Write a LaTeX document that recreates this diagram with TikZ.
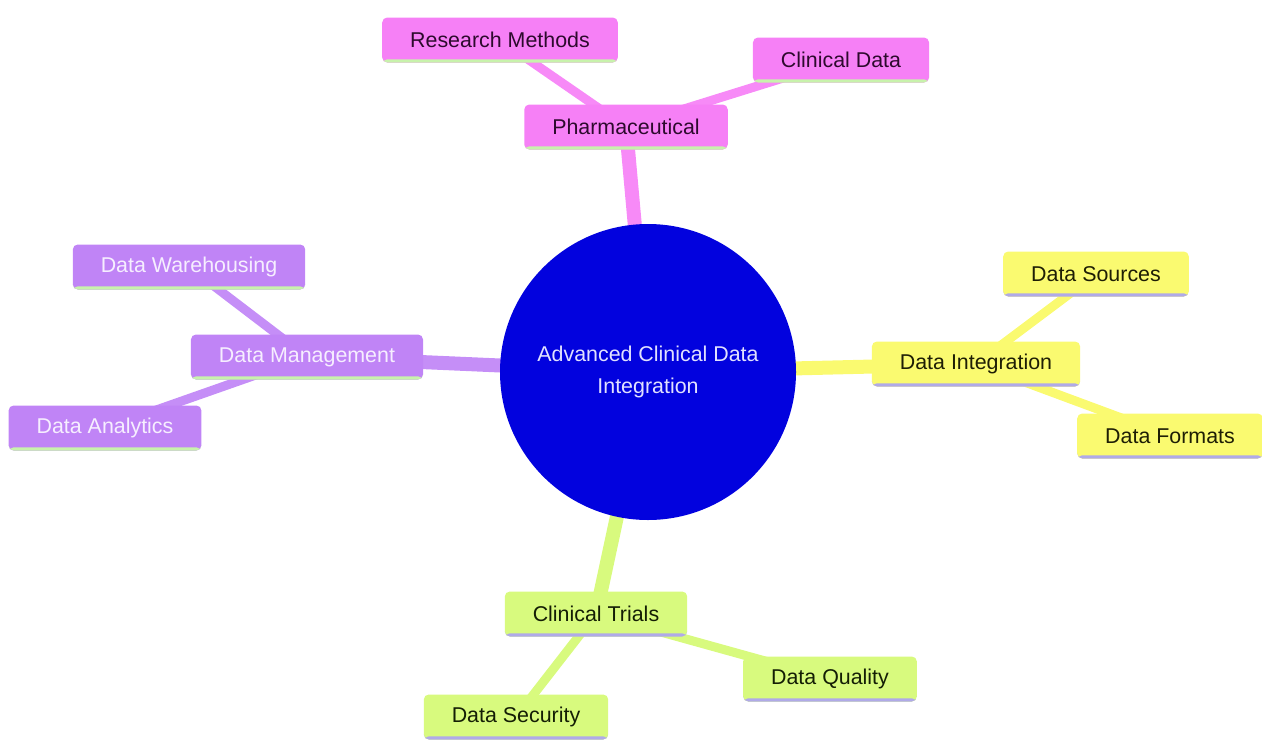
\documentclass[tikz,border=0pt]{standalone}
\usepackage{fontspec}
\setmainfont{Liberation Sans}
\usetikzlibrary{positioning, backgrounds}

\definecolor{pinkfill}{RGB}{246,128,246}
\definecolor{pinktext}{RGB}{45,10,45}
\definecolor{purplefill}{RGB}{192,132,246}
\definecolor{purpletext}{RGB}{246,238,255}
\definecolor{yellowfill}{RGB}{250,250,112}
\definecolor{yellowtext}{RGB}{30,30,5}
\definecolor{greenfill}{RGB}{216,250,126}
\definecolor{greentext}{RGB}{20,30,5}
\definecolor{rootfill}{RGB}{2,2,222}
\definecolor{roottext}{RGB}{225,225,255}
\definecolor{undergreen}{RGB}{200,242,172}
\definecolor{underlav}{RGB}{176,170,232}

\begin{document}
\begin{tikzpicture}[
    x=0.5pt, y=-0.5pt,
    every node/.style={font=\fontsize{10.7}{13}\selectfont},
    leafbox/.style={rectangle, rounded corners=2.5pt, inner xsep=14pt, minimum height=22.5pt, inner ysep=0pt},
    underline/.style={path picture={\fill[#1] ([yshift=1.6pt]path picture bounding box.south west) rectangle (path picture bounding box.south east);}},
    pinkbox/.style={leafbox, fill=pinkfill, text=pinktext, underline=undergreen},
    purplebox/.style={leafbox, fill=purplefill, text=purpletext, underline=undergreen},
    yellowbox/.style={leafbox, fill=yellowfill, text=yellowtext, underline=underlav},
    greenbox/.style={leafbox, fill=greenfill, text=greentext, underline=underlav},
    rootnode/.style={circle, fill=rootfill, text=roottext, minimum size=148pt, align=center, inner sep=0pt},
    branch/.style={line width=7pt},
    twig/.style={line width=4.5pt}
]
    \useasboundingbox (0,0) rectangle (1262,739);

    % Root
    \node (root) [rootnode] at (648,372) {Advanced Clinical Data\\[3pt]Integration};

    % Pharmaceutical branch
    \node (pharma) [pinkbox] at (626,127) {Pharmaceutical};
    \node (research) [pinkbox] at (500,40) {Research Methods};
    \node (clindata) [pinkbox] at (841,60) {Clinical Data};

    % Data Management branch
    \node (datamgmt) [purplebox] at (307,357) {Data Management};
    \node (warehouse) [purplebox] at (189,267) {Data Warehousing};
    \node (analytics) [purplebox] at (105,428) {Data Analytics};

    % Data Integration branch
    \node (dataint) [yellowbox] at (976,364) {Data Integration};
    \node (sources) [yellowbox] at (1096,274) {Data Sources};
    \node (formats) [yellowbox] at (1170,436) {Data Formats};

    % Clinical Trials branch
    \node (trials) [greenbox] at (596,614) {Clinical Trials};
    \node (quality) [greenbox] at (830,679) {Data Quality};
    \node (security) [greenbox] at (516,717) {Data Security};

    % Edges behind the boxes
    \begin{scope}[on background layer]
        \draw [branch, pinkfill!92!white] (root.center) -- (pharma.center);
        \draw [twig, pinkfill!92!white] (pharma.center) -- (research.center);
        \draw [twig, pinkfill!92!white] (pharma.center) -- (clindata.center);

        \draw [branch, purplefill!92!white] (root.center) -- (datamgmt.center);
        \draw [twig, purplefill!92!white] (datamgmt.center) -- (warehouse.center);
        \draw [twig, purplefill!92!white] (datamgmt.center) -- (analytics.center);

        \draw [branch, yellowfill] (root.center) -- (dataint.center);
        \draw [twig, yellowfill] (dataint.center) -- (sources.center);
        \draw [twig, yellowfill] (dataint.center) -- (formats.center);

        \draw [branch, greenfill] (root.center) -- (trials.center);
        \draw [twig, greenfill] (trials.center) -- (quality.center);
        \draw [twig, greenfill] (trials.center) -- (security.center);
    \end{scope}

\end{tikzpicture}
\end{document}
